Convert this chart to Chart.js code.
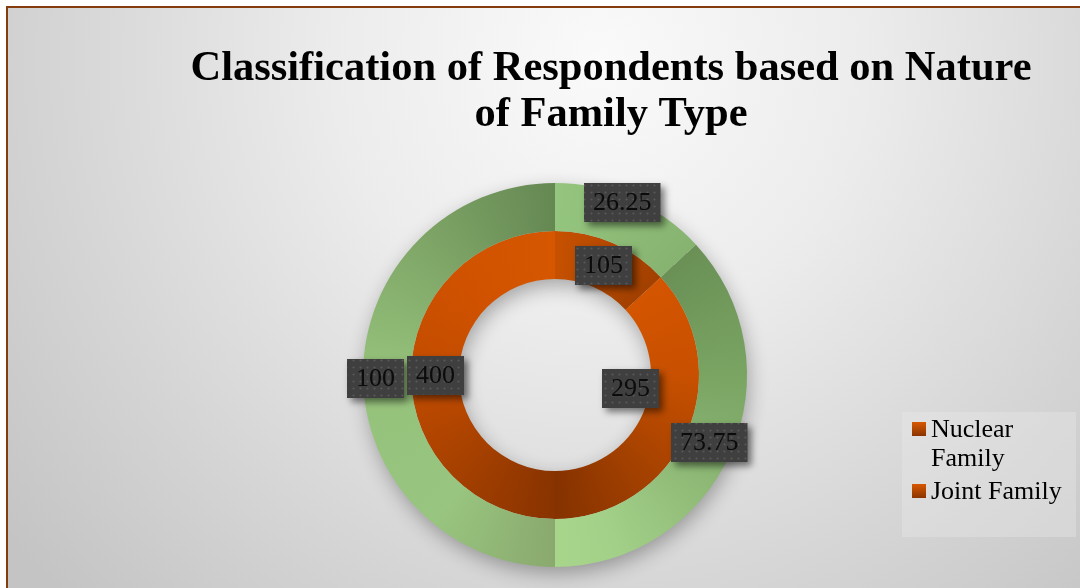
<!DOCTYPE html>
<html>
<head>
<meta charset="utf-8">
<script src="https://cdn.jsdelivr.net/npm/chart.js@4.4.1/dist/chart.umd.min.js"></script>
<style>
  html, body { margin: 0; padding: 0; background: #ffffff; overflow: hidden; }
  #wrap { width: 1080px; height: 588px; position: relative; }
</style>
</head>
<body>
<div id="wrap"><canvas id="chart" width="1080" height="588"></canvas></div>
<script>
// ---- data ----
const titleLines = ["Classification of Respondents based on Nature", "of Family Type"];
const categories = ["Nuclear Family", "Joint Family", "Total"];
const legendCount = 2;                       // the total slice has no legend entry
const percentValues = [26.25, 73.75, 100];   // outer ring (%)
const respondentCounts = [105, 295, 400];    // inner ring (respondents)

// ---- styles ----
const SERIF = "'Liberation Serif', 'Times New Roman', serif";
// colour stops along each slice (0 = slice start, 1 = slice end, clockwise)
const greenStops = [
  [[0, '#94c57e'], [1, '#87b370']],
  [[0, '#6a9056'], [0.32, '#79a462'], [0.5, '#86b06f'], [0.85, '#a2d088'], [1, '#a7d68b']],
  [[0, '#8aa96e'], [0.22, '#98c57f'], [0.5, '#95c27b'], [0.75, '#7fa667'], [1, '#658853']]
];
const orangeStops = [
  [[0, '#c65100'], [1, '#a24000']],
  [[0, '#d45500'], [0.32, '#c85000'], [0.66, '#a64200'], [1, '#853200']],
  [[0, '#883300'], [0.25, '#a54000'], [0.5, '#c24c00'], [0.75, '#d05200'], [1, '#d65700']]
];
// nudges applied to some value boxes, per ring and slice
const labelShift = [
  [[0, -19], [0, 0], [-12, 3]],
  [[0, 0], [-34, -35], [0, 0]]
];

function ringGradient(chart, values, stops, fallback) {
  const a = chart.chartArea;
  if (!a) return fallback;
  const cx = (a.left + a.right) / 2, cy = (a.top + a.bottom) / 2;
  const g = chart.ctx.createConicGradient(-Math.PI / 2, cx, cy);
  const total = values.reduce((s, v) => s + v, 0);
  let start = 0;
  values.forEach((v, i) => {
    const end = start + v / total;
    stops[i].forEach(([f, c]) => {
      const off = Math.min(1, Math.max(0, start + f * (end - start)));
      g.addColorStop(off, c);
    });
    start = end;
  });
  return g;
}

// label box texture: dark grey with faint dots
function makeDotPattern(ctx) {
  const t = document.createElement('canvas');
  t.width = 7; t.height = 7;
  const c = t.getContext('2d');
  c.fillStyle = '#3f3f3f';
  c.fillRect(0, 0, 7, 7);
  c.fillStyle = 'rgba(110,110,110,0.55)';
  c.beginPath(); c.arc(3.5, 3.5, 1.1, 0, Math.PI * 2); c.fill();
  return ctx.createPattern(t, 'repeat');
}

const decorPlugin = {
  id: 'decor',
  beforeDraw(chart) {
    const ctx = chart.ctx;
    const W = chart.width, H = chart.height;
    ctx.save();
    ctx.fillStyle = '#ffffff';
    ctx.fillRect(0, 0, W, H);
    const bg = ctx.createRadialGradient(600, 60, 0, 600, 60, 760);
    bg.addColorStop(0, '#fafafa');
    bg.addColorStop(0.35, '#ececec');
    bg.addColorStop(0.7, '#d6d6d6');
    bg.addColorStop(1, '#c4c4c4');
    ctx.fillStyle = bg;
    ctx.fillRect(8, 8, W, H);
    ctx.strokeStyle = '#843c0c';
    ctx.lineWidth = 2;
    ctx.strokeRect(7, 7, W + 20, H + 20);
    ctx.restore();
  },
  beforeDatasetsDraw(chart) {
    // soft drop shadow under the whole doughnut
    const meta = chart.getDatasetMeta(0);
    const arc = meta.data[0];
    if (!arc) return;
    const {x, y, outerRadius} = arc.getProps(['x', 'y', 'outerRadius']);
    const inner = chart.getDatasetMeta(1).data[0].getProps(['innerRadius']).innerRadius;
    const ctx = chart.ctx;
    ctx.save();
    ctx.shadowColor = 'rgba(0,0,0,0.32)';
    ctx.shadowBlur = 20;
    ctx.shadowOffsetX = 2;
    ctx.shadowOffsetY = 7;
    ctx.fillStyle = '#b8b8b8';
    ctx.beginPath();
    ctx.arc(x, y, outerRadius - 1, 0, Math.PI * 2);
    ctx.arc(x, y, inner + 1, 0, Math.PI * 2, true);
    ctx.fill('evenodd');
    ctx.restore();
  },
  afterDatasetsDraw(chart) {
    const ctx = chart.ctx;
    const pattern = makeDotPattern(ctx);
    ctx.save();
    ctx.font = '26px ' + SERIF;
    ctx.textAlign = 'center';
    ctx.textBaseline = 'middle';
    chart.data.datasets.forEach((ds, d) => {
      const meta = chart.getDatasetMeta(d);
      meta.data.forEach((arc, i) => {
        const p = arc.getCenterPoint();
        const [dx, dy] = labelShift[d][i];
        const text = String(ds.data[i]);
        const w = ctx.measureText(text).width + 18;
        const h = 39;
        const bx = Math.round(p.x + dx - w / 2), by = Math.round(p.y + dy - h / 2);
        ctx.save();
        ctx.shadowColor = 'rgba(0,0,0,0.5)';
        ctx.shadowBlur = 7;
        ctx.shadowOffsetX = 4;
        ctx.shadowOffsetY = 4;
        ctx.fillStyle = pattern;
        ctx.fillRect(bx, by, w, h);
        ctx.restore();
        ctx.fillStyle = '#0b0b0b';
        ctx.fillText(text, bx + w / 2, by + h / 2 + 1);
      });
    });
    ctx.restore();
  },
  afterDraw(chart) {
    const ctx = chart.ctx;
    ctx.save();
    // title
    ctx.fillStyle = '#000000';
    ctx.font = 'bold 42.5px ' + SERIF;
    ctx.textAlign = 'center';
    ctx.textBaseline = 'alphabetic';
    titleLines.forEach((line, k) => ctx.fillText(line, 611, 80 + k * 46));

    // legend panel
    const lx = 902, ly = 412, lw = 174, lh = 125;
    ctx.fillStyle = 'rgba(236,236,236,0.35)';
    ctx.fillRect(lx, ly, lw, lh);
    ctx.font = '26px ' + SERIF;
    ctx.textAlign = 'left';
    const maxW = 140;
    let baseline = 437;
    for (let i = 0; i < legendCount; i++) {
      // wrap label to panel width
      const words = categories[i].split(' ');
      const lines = [];
      let cur = '';
      words.forEach(wd => {
        const test = cur ? cur + ' ' + wd : wd;
        if (ctx.measureText(test).width > maxW && cur) { lines.push(cur); cur = wd; }
        else cur = test;
      });
      if (cur) lines.push(cur);
      const sq = ctx.createLinearGradient(0, baseline - 15, 0, baseline - 1);
      sq.addColorStop(0, '#d85800');
      sq.addColorStop(1, '#8a3400');
      ctx.fillStyle = sq;
      ctx.fillRect(912, baseline - 15, 14, 14);
      ctx.fillStyle = '#000000';
      lines.forEach((ln, k) => {
        ctx.fillText(ln, 931, baseline);
        baseline += 29;
      });
      baseline += 4;
    }
    ctx.restore();
  }
};

new Chart(document.getElementById('chart'), {
  type: 'doughnut',
  data: {
    labels: categories,
    datasets: [
      {
        label: 'Percentage',
        data: percentValues,
        backgroundColor: (c) => ringGradient(c.chart, percentValues, greenStops, '#8fbd77')
      },
      {
        label: 'Respondents',
        data: respondentCounts,
        backgroundColor: (c) => ringGradient(c.chart, respondentCounts, orangeStops, '#c24c00')
      }
    ]
  },
  options: {
    responsive: false,
    animation: false,
    events: [],
    cutout: '50%',
    rotation: 0,
    circumference: 360,
    borderWidth: 0,
    offset: 0,
    hoverOffset: 0,
    spacing: 0,
    layout: { padding: { left: 363, right: 333, top: 183, bottom: 21 } },
    plugins: {
      legend: { display: false },
      title: { display: false },
      tooltip: { enabled: false }
    }
  },
  plugins: [decorPlugin]
});
</script>
</body>
</html>
